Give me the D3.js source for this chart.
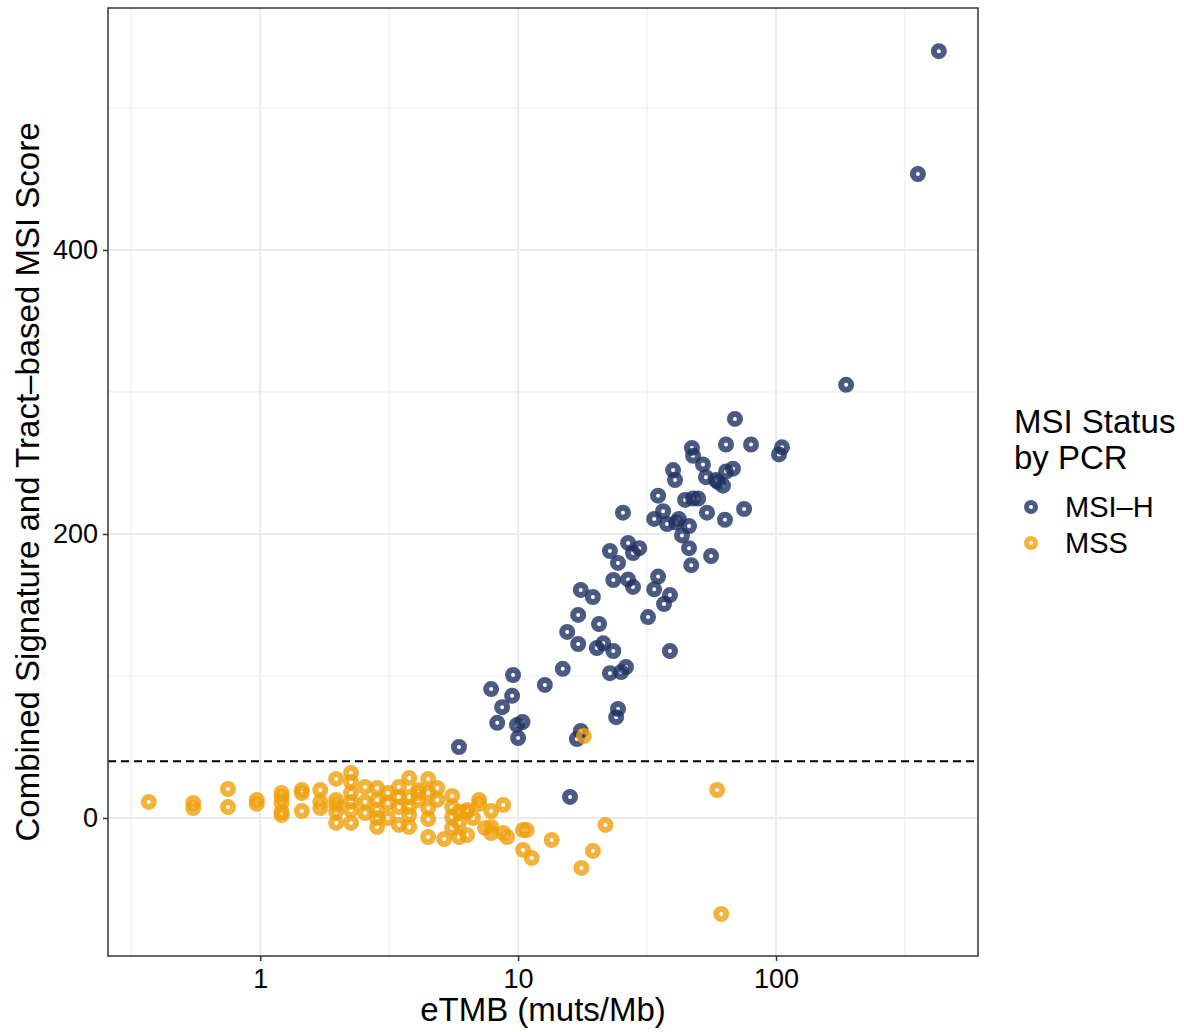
<!DOCTYPE html>
<html>
<head>
<meta charset="utf-8">
<script src="https://cdn.jsdelivr.net/npm/d3@7"></script>
<style>
  body { margin: 0; background: #fff; }
  text { font-family: "Liberation Sans", Arial, Helvetica, sans-serif; fill: #000; }
</style>
</head>
<body>
<svg id="chart" width="1184" height="1032"></svg>
<script>

// MSI-H points: [eTMB, score]
const msiH = [
  [428, 540], [355, 453.5], [187, 305], [105.5, 261], [102.7, 256],
  [69.3, 281], [64, 263], [80, 263], [47.2, 260.6], [47.7, 255], [52.1, 249],
  [39.9, 245], [40.6, 238], [53.5, 240], [64, 244], [68.1, 246], [59.6, 236.6],
  [62.3, 234], [58.5, 238], [34.9, 227], [44.4, 224], [47.7, 225], [49.9, 225],
  [36.5, 216], [33.7, 210.6], [37.8, 207], [41, 208], [42, 210.6], [46, 205.6],
  [54, 215], [63.4, 210], [75.2, 217.6], [43.2, 199], [46, 190], [56, 184.5],
  [46.9, 178], [34.9, 170],
  [25.5, 215], [22.7, 188], [26.7, 193.7], [27.9, 186.6], [29.5, 190], [24.4, 179.6],
  [23.4, 167.6], [26.7, 168], [27.9, 162.7], [33.7, 161], [38.8, 157], [36.8, 150.7],
  [17.5, 160.6], [19.5, 155.6], [17.1, 143], [20.6, 136.6], [31.9, 141.5], [15.5, 131],
  [17.1, 122.5], [20.2, 119.7], [21.4, 123], [23.4, 117.6], [38.8, 117.6], [14.9, 105],
  [12.7, 93.7], [22.7, 102], [25.1, 102.8], [26.2, 106.3], [24.4, 76.8], [24, 71],
  [7.86, 90.8], [9.56, 100.7], [9.48, 86], [8.67, 78], [8.3, 67], [9.9, 65.5],
  [10.4, 67.6], [10, 56.3], [5.9, 50], [16.9, 55.6], [17.5, 61.3], [15.9, 14.8]
];

// MSS points: [eTMB, score]
const mss = [
  [0.37, 11.3],
  [0.55, 10.6], [0.55, 7.0],
  [0.75, 20.4], [0.75, 7.7],
  [0.97, 12.7], [0.97, 9.9],
  [1.21, 17.6], [1.21, 14.8], [1.21, 10.6], [1.21, 4.2], [1.21, 2.1],
  [1.45, 19.7], [1.45, 17.6], [1.45, 4.9],
  [1.71, 19.7], [1.71, 11.3], [1.71, 7.0],
  [1.97, 27.5], [1.97, 12.7], [1.97, 9.2], [1.97, 4.2], [1.97, -3.5],
  [2.25, 31.7], [2.25, 25.4], [2.25, 17.6], [2.25, 11.3], [2.25, 5.6], [2.25, -3.5],
  [2.55, 21.8], [2.55, 11.3], [2.55, 3.5],
  [2.84, 21.1], [2.84, 12.7], [2.84, 5.6], [2.84, 0], [2.84, -6.3],
  [3.13, 17.6], [3.13, 10.6], [3.13, 0],
  [3.45, 21.8], [3.45, 14.8], [3.45, 7.7], [3.45, -4.9],
  [3.78, 28.2], [3.78, 14.8], [3.78, 7.7], [3.78, 2.1], [3.78, -6.3],
  [4.10, 19.7], [4.10, 17.6], [4.10, 12.7],
  [4.48, 27.5], [4.48, 17.6], [4.48, 7.0], [4.48, -0.7], [4.48, -13.4],
  [4.86, 21.1], [4.86, 12.7],
  [5.17, -14.8],
  [5.55, 15.5], [5.55, 7.7], [5.55, 0.7], [5.55, -7.0],
  [5.90, 4.2], [5.90, -3.5], [5.90, -13.4],
  [6.34, 5.6], [6.34, 4.2], [6.34, -12.0],
  [6.69, 0],
  [7.06, 12.7], [7.06, 9.9],
  [7.44, -7.0],
  [7.86, 4.9], [7.86, -6.3], [7.86, -10.6],
  [8.76, 9.2], [8.76, -10.6],
  [9.07, -13.4],
  [10.45, -8.5], [10.8, -8.5], [10.45, -22.5],
  [11.3, -28.2], [13.5, -15.5], [17.6, -35.2], [19.5, -23.2], [21.8, -4.9],
  [59.1, 19.7], [61.3, -67.6], [18.0, 57.7]
];

const groups = [
  { label: "MSI\u2013H", color: "#1e3160", data: msiH },
  { label: "MSS", color: "#efa00b", data: mss }
];

const xTicks = [1, 10, 100];
const xMinor = [0.316, 3.16, 31.6, 316];
const yTicks = [0, 200, 400];
const yMinor = [100, 300, 500];
const threshold = 40;

const margin = { top: 8, left: 108 };
const innerWidth = 870;
const innerHeight = 948;

const svg = d3.select("#chart");
const innerChart = svg.append("g")
  .attr("transform", `translate(${margin.left}, ${margin.top})`);

const xScale = d3.scaleLog()
  .domain([0.257, 607])
  .range([0, innerWidth]);
const yScale = d3.scaleLinear()
  .domain([-97.2, 570.4])
  .range([innerHeight, 0]);

// grid
const grid = innerChart.append("g").attr("class", "grid");
xMinor.forEach(v => {
  grid.append("line")
    .attr("x1", xScale(v)).attr("x2", xScale(v))
    .attr("y1", 0).attr("y2", innerHeight)
    .attr("stroke", "#ebebeb").attr("stroke-width", 1);
});
yMinor.forEach(v => {
  grid.append("line")
    .attr("x1", 0).attr("x2", innerWidth)
    .attr("y1", yScale(v)).attr("y2", yScale(v))
    .attr("stroke", "#ebebeb").attr("stroke-width", 1);
});
xTicks.forEach(v => {
  grid.append("line")
    .attr("x1", xScale(v)).attr("x2", xScale(v))
    .attr("y1", 0).attr("y2", innerHeight)
    .attr("stroke", "#ebebeb").attr("stroke-width", 2);
});
yTicks.forEach(v => {
  grid.append("line")
    .attr("x1", 0).attr("x2", innerWidth)
    .attr("y1", yScale(v)).attr("y2", yScale(v))
    .attr("stroke", "#ebebeb").attr("stroke-width", 2);
});

// threshold
innerChart.append("line")
  .attr("x1", 0).attr("x2", innerWidth)
  .attr("y1", yScale(threshold)).attr("y2", yScale(threshold))
  .attr("stroke", "#000")
  .attr("stroke-width", 2)
  .attr("stroke-dasharray", "8 5");

// points
groups.forEach(g => {
  innerChart.append("g")
    .selectAll("circle")
    .data(g.data)
    .join("circle")
      .attr("cx", d => xScale(d[0]))
      .attr("cy", d => yScale(d[1]))
      .attr("r", 5)
      .attr("fill", "none")
      .attr("stroke", g.color)
      .attr("stroke-width", 6)
      .attr("stroke-opacity", 0.8);
});

// panel border
innerChart.append("rect")
  .attr("width", innerWidth)
  .attr("height", innerHeight)
  .attr("fill", "none")
  .attr("stroke", "#333")
  .attr("stroke-width", 1.5);

// axes
const xAxis = d3.axisBottom(xScale)
  .tickValues(xTicks)
  .tickFormat(d3.format("d"))
  .tickSize(5)
  .tickPadding(8);
innerChart.append("g")
  .attr("transform", `translate(0, ${innerHeight})`)
  .call(xAxis)
  .call(g => g.select(".domain").remove())
  .call(g => g.selectAll(".tick line").attr("stroke", "#333").attr("stroke-width", 1.5))
  .call(g => g.selectAll(".tick text").style("font-size", "27px").attr("fill", "#000"));

const yAxis = d3.axisLeft(yScale)
  .tickValues(yTicks)
  .tickSize(5)
  .tickPadding(5);
innerChart.append("g")
  .call(yAxis)
  .call(g => g.select(".domain").remove())
  .call(g => g.selectAll(".tick line").attr("stroke", "#333").attr("stroke-width", 1.5))
  .call(g => g.selectAll(".tick text").style("font-size", "27px").attr("fill", "#000"));

// titles
svg.append("text")
  .attr("x", margin.left + innerWidth / 2)
  .attr("y", 1021)
  .attr("text-anchor", "middle")
  .style("font-size", "33px")
  .text("eTMB (muts/Mb)");

svg.append("text")
  .attr("transform", `translate(39, ${margin.top + innerHeight / 2}) rotate(-90)`)
  .attr("text-anchor", "middle")
  .style("font-size", "33px")
  .text("Combined Signature and Tract\u2013based MSI Score");

// legend
const legend = svg.append("g").attr("transform", "translate(1014, 0)");
legend.append("text").attr("x", 0).attr("y", 433).style("font-size", "33px").text("MSI Status");
legend.append("text").attr("x", 0).attr("y", 469).style("font-size", "33px").text("by PCR");
groups.forEach((g, i) => {
  const cy = 507 + i * 36;
  legend.append("circle")
    .attr("cx", 17).attr("cy", cy).attr("r", 4.5)
    .attr("fill", "none")
    .attr("stroke", g.color)
    .attr("stroke-width", 5)
    .attr("stroke-opacity", 0.8);
  legend.append("text")
    .attr("x", 51).attr("y", cy)
    .attr("dy", "0.36em")
    .style("font-size", "29px")
    .text(g.label);
});
</script>
</body>
</html>
